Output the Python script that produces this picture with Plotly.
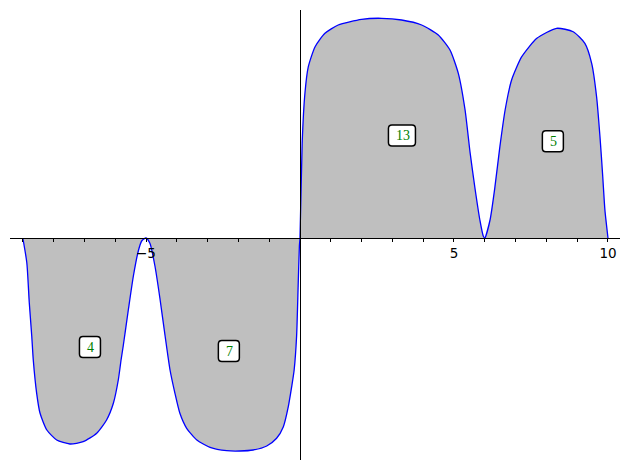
import plotly.graph_objects as go

# Curve samples
x_vals = [-9.0, -8.87, -8.79, -8.71, -8.66, -8.55, -8.44, -8.22, -7.90, -7.47, -7.04, -6.60, -6.28, -6.06,
          -5.90, -5.81, -5.74, -5.57, -5.41, -5.25, -5.14, -5.0,
          -4.87, -4.71, -4.55, -4.38, -4.22, -4.06, -3.90, -3.68, -3.35, -2.92, -2.38, -1.95, -1.52,
          -1.08, -0.76, -0.54, -0.38, -0.27, -0.19, -0.11, -0.06, -0.02, 0.0,
          0.07, 0.16, 0.27, 0.49, 0.81, 1.24, 2.00, 2.65, 3.30, 3.95, 4.49, 4.87, 5.14, 5.36, 5.52,
          5.68, 5.84, 5.95, 6.0,
          6.17, 6.33, 6.49, 6.66, 6.87, 7.20, 7.69, 8.33, 8.87, 9.25, 9.47, 9.63, 9.74, 9.83, 9.90, 10.0]
y_vals = [0, -2.47, -6.47, -9.8, -12.2, -15.53, -17.53, -19.2, -20.2, -20.6, -20.37, -19.53, -18.2, -16.53,
          -14.2, -12.2, -10.8, -7.1, -3.8, -1.3, -0.3, 0,
          -0.55, -2.8, -6.0, -9.8, -13.2, -15.53, -17.53, -19.03, -20.2, -20.93, -21.27, -21.3, -21.2,
          -20.8, -20.03, -18.87, -16.87, -14.87, -13.2, -9.8, -4.8, -0.8, 0,
          9.47, 14.47, 17.13, 19.13, 20.47, 21.3, 21.87, 21.97, 21.8, 21.3, 20.3, 18.8, 16.47, 12.8, 8.6,
          5.0, 1.8, 0.2, 0,
          1.8, 5.13, 9.13, 12.8, 15.8, 18.13, 19.97, 20.97, 20.63, 19.47, 17.47, 14.13, 10.13, 6.13, 2.8, 0]

# Region labels
label_text = ["4", "7", "13", "5"]
label_x = [-6.82, -2.31, 3.31, 8.21]
label_y = [-10.9, -11.3, 10.25, 9.68]

# Tick labels
tick_vals = list(range(-9, 11))
tick_text = ["\u22125" if v == -5 else ("5" if v == 5 else ("10" if v == 10 else "")) for v in tick_vals]

x_range = [-9.416, 10.39]
y_range = [-22.2, 22.8]

fig = go.Figure()
fig.add_trace(go.Scatter(
    x=x_vals, y=y_vals, mode="lines",
    line=dict(color="#0000ff", width=1.3, shape="spline", smoothing=0.6),
    fill="tozeroy", fillcolor="#bfbfbf",
    hoverinfo="skip", showlegend=False,
))

def rrect(w, h, r):
    a, b = w / 2, h / 2
    return (f"M {-a+r},{-b} L {a-r},{-b} Q {a},{-b} {a},{-b+r} L {a},{b-r} Q {a},{b} {a-r},{b} "
            f"L {-a+r},{b} Q {-a},{b} {-a},{b-r} L {-a},{-b+r} Q {-a},{-b} {-a+r},{-b} Z")

for t, lx, ly in zip(label_text, label_x, label_y):
    w = 27 if len(t) > 1 else 21
    fig.add_shape(type="path", xref="x", yref="y", xsizemode="pixel", ysizemode="pixel",
                  xanchor=lx, yanchor=ly, path=rrect(w, 21, 3.5),
                  line=dict(color="black", width=1.5), fillcolor="white", layer="above")
    fig.add_annotation(x=lx, y=ly, text=t, showarrow=False, xshift=1,
                       font=dict(family="Liberation Serif, DejaVu Serif, serif", size=14, color="#008000"))

# page body has an 8px margin, so the figure is sized to fit the remaining window
fig.update_layout(
    width=622, height=462,
    margin=dict(l=2, r=10, t=2, b=10),
    paper_bgcolor="white", plot_bgcolor="white",
    xaxis=dict(range=x_range, anchor="free",
               position=(0 - y_range[0]) / (y_range[1] - y_range[0]),
               showline=True, linecolor="black", linewidth=1.2,
               showgrid=False, zeroline=False,
               tickmode="array", tickvals=tick_vals, ticktext=tick_text,
               ticks="outside", ticklen=3, tickwidth=1, tickcolor="black",
               tickfont=dict(family="DejaVu Sans", size=13.5, color="black")),
    yaxis=dict(range=y_range, anchor="free",
               position=(0 - x_range[0]) / (x_range[1] - x_range[0]),
               showline=True, linecolor="black", linewidth=1.2,
               showgrid=False, zeroline=False, showticklabels=False, ticks=""),
)

fig.write_html("out.html")
